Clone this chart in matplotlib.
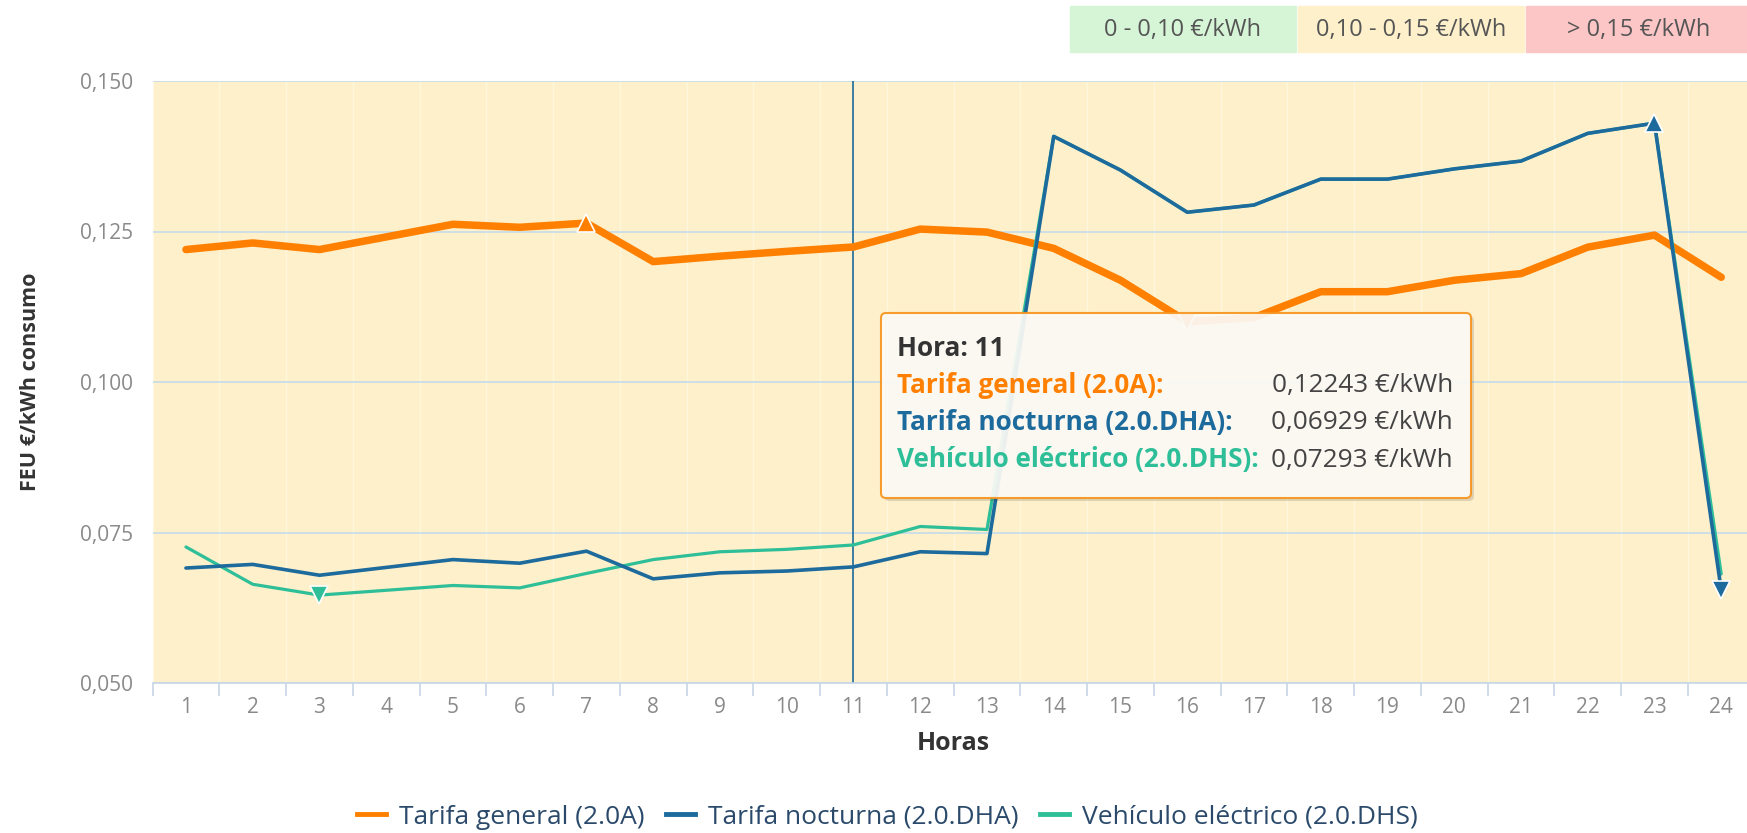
import matplotlib.pyplot as plt
from matplotlib.patches import FancyBboxPatch, Rectangle
from matplotlib.ticker import FuncFormatter, MultipleLocator
from matplotlib.lines import Line2D

plt.rcParams['font.family'] = ['Open Sans', 'DejaVu Sans']

# precios por hora (€/kWh)
horas = list(range(1, 25))
tarifa_general = [0.1220, 0.1231, 0.1220, 0.1241, 0.1262, 0.1257, 0.1264, 0.1200,
                  0.1209, 0.1217, 0.12243, 0.1254, 0.1249, 0.1222, 0.1169, 0.1100,
                  0.1107, 0.1150, 0.1150, 0.1169, 0.1180, 0.1224, 0.1244, 0.1174]
tarifa_nocturna = [0.0691, 0.0697, 0.0679, 0.0692, 0.0705, 0.0699, 0.0719, 0.0673,
                   0.0683, 0.0686, 0.06929, 0.0718, 0.0715, 0.1408, 0.1352, 0.1282,
                   0.1294, 0.1337, 0.1337, 0.1354, 0.1367, 0.1413, 0.1430, 0.0654]
vehiculo_electrico = [0.0726, 0.0664, 0.0646, 0.0654, 0.0662, 0.0658, 0.0682, 0.0705,
                      0.0718, 0.0722, 0.07293, 0.0760, 0.0755, 0.1408, 0.1352, 0.1282,
                      0.1294, 0.1337, 0.1337, 0.1354, 0.1367, 0.1413, 0.1430, 0.0681]

series_names = ['Tarifa general (2.0A)', 'Tarifa nocturna (2.0.DHA)',
                'Vehículo eléctrico (2.0.DHS)']
series_colors = ['#ff8000', '#1d6a9c', '#2ebf98']
series_widths = [5.4, 2.6, 2.3]
series_z = [3, 5, 4]

band_labels = ['0 - 0,10 €/kWh', '0,10 - 0,15 €/kWh', '> 0,15 €/kWh']
band_colors = ['#d6f5d6', '#fdf0cb', '#fdc6c6']

hora_tooltip = 11

W, H = 1747, 833
fig = plt.figure(figsize=(W / 100, H / 100), dpi=100)
ax = fig.add_axes([152.6 / W, 150 / H, 1602 / W, 602 / H])
ax.set_facecolor(band_colors[1])

all_series = [tarifa_general, tarifa_nocturna, vehiculo_electrico]
for vals, name, col, lw, z in zip(all_series, series_names, series_colors, series_widths, series_z):
    ax.plot(horas, vals, color=col, lw=lw, zorder=z, solid_joinstyle='round',
            solid_capstyle='round', label=name)
    # marcadores de maximo y minimo
    i_max = vals.index(max(vals))
    i_min = vals.index(min(vals))
    ax.plot(horas[i_max], vals[i_max], marker='^', ms=13, color=col,
            mec='white', mew=1.2, zorder=z + 0.5)
    ax.plot(horas[i_min], vals[i_min], marker='v', ms=13, color=col,
            mec='white', mew=1.2, zorder=z + 0.5)

ax.axvline(hora_tooltip, color='#1d6a9c', lw=1.2, zorder=2)

ax.set_xlim(0.5, 24.5)
ax.set_ylim(0.05, 0.15)
ax.yaxis.set_major_locator(MultipleLocator(0.025))
ax.yaxis.set_major_formatter(FuncFormatter(lambda v, p: f'{v:.3f}'.replace('.', ',')))
ax.set_xticks(horas)
ax.set_xticks([h + 0.5 for h in range(0, 25)], minor=True)
ax.grid(axis='y', color='#c4dcea', lw=1.2, zorder=1)
ax.grid(axis='x', which='minor', color='#fff6dd', lw=1.0, zorder=1)
ax.set_axisbelow(True)

for s in ['top', 'right', 'left']:
    ax.spines[s].set_visible(False)
ax.spines['bottom'].set_color('#c7d6e6')
ax.spines['bottom'].set_linewidth(1.2)

ax.tick_params(axis='x', which='major', length=0, pad=10, labelsize=15, labelcolor='#8a8a8a')
ax.tick_params(axis='x', which='minor', length=9, width=1.2, color='#c7d6e6')
ax.tick_params(axis='y', length=0, pad=14, labelsize=15, labelcolor='#8a8a8a')

ax.set_xlabel('Horas', fontsize=18, fontweight='bold', color='#333333', va='center')
ax.xaxis.set_label_coords(0.5, (683 - 744) / 602)
ax.set_ylabel('FEU €/kWh consumo', fontsize=15.5, fontweight='bold', color='#333333', va='center')
ax.yaxis.set_label_coords((31 - 152.6) / 1602, 0.5)

# cajas de rangos de precio arriba a la derecha
box_x = [1070, 1298, 1526]
for bx, lab, col in zip(box_x, band_labels, band_colors):
    fig.patches.append(Rectangle((bx / W, 1 - 52 / H), 226 / W, 46 / H,
                                 transform=fig.transFigure, color=col))
    fig.text((bx + 113) / W, 1 - 30 / H, lab, ha='center', va='center',
             fontsize=17, color='#555555')

# tooltip
tx0, tx1, ty0, ty1 = 881, 1471, 313, 498
shadow = FancyBboxPatch(((tx0 + 3) / 100, (H - ty1 - 3) / 100), (tx1 - tx0) / 100, (ty1 - ty0) / 100,
                        boxstyle='round,pad=0,rounding_size=0.05', transform=fig.dpi_scale_trans,
                        fc='black', ec='none', alpha=0.12, zorder=10)
tip = FancyBboxPatch((tx0 / 100, (H - ty1) / 100), (tx1 - tx0) / 100, (ty1 - ty0) / 100,
                     boxstyle='round,pad=0,rounding_size=0.05', transform=fig.dpi_scale_trans,
                     fc='#fefcf8', ec='#f7941d', lw=1.5, alpha=0.92, zorder=11)
fig.patches.extend([shadow, tip])

row_y = [349, 386, 423, 460]
fig.text(897 / W, 1 - row_y[0] / H, f'Hora: {hora_tooltip}', ha='left', va='center',
         fontsize=18.8, fontweight='bold', color='#333333', zorder=12)
for k, (vals, name, col) in enumerate(zip(all_series, series_names, series_colors)):
    fig.text(897 / W, 1 - row_y[k + 1] / H, name + ':', ha='left', va='center',
             fontsize=18.8, fontweight='bold', color=col, zorder=12)
    v = vals[horas.index(hora_tooltip)]
    fig.text(1453 / W, 1 - row_y[k + 1] / H, f'{v:.5f}'.replace('.', ',') + ' €/kWh',
             ha='right', va='center', fontsize=18.8, color='#444444', zorder=12)

handles = [Line2D([], [], color=c, lw=3.5) for c in series_colors]
fig.legend(handles, series_names, loc='center', bbox_to_anchor=(0.508, 1 - 817 / H),
           ncol=3, frameon=False, fontsize=19, labelcolor='#2b4a6b',
           handlelength=1.1, handletextpad=0.5, columnspacing=0.8)

fig.savefig('out.png', dpi=100)
